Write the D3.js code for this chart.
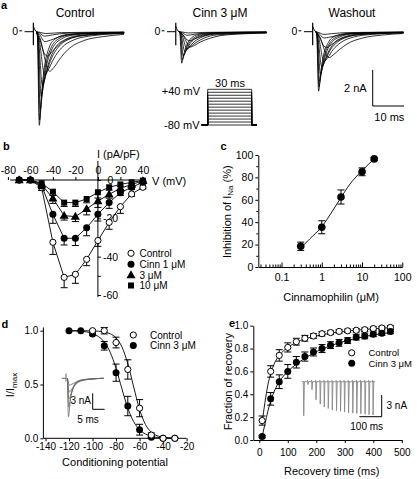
<!DOCTYPE html>
<html>
<head>
<meta charset="utf-8">
<script src="https://cdn.jsdelivr.net/npm/d3@7/dist/d3.min.js"></script>
<style>
html,body{margin:0;padding:0;background:#ffffff;}
svg{display:block;}
</style>
</head>
<body>
<svg id="fig" width="417" height="479" viewBox="0 0 417 479"></svg>
<script>
// ================= DATA =================
// ---- Panel a : Na+ current families, [time (ms), current (nA)] ----
const aTitles = ["Control", "Cinn 3 \u03bcM", "Washout"];
const aTracesControl = [
 [[0,0],[0.3,-0.3],[0.9,-5.2],[1.5,-3.7],[2.5,-2.0],[4,-0.9],[6,-0.4],[10,-0.15],[20,-0.06],[28,-0.04]],
 [[0,0],[0.35,-0.25],[1.0,-4.9],[1.7,-3.5],[2.8,-2.0],[4.5,-0.95],[7,-0.4],[11,-0.16],[20,-0.07],[28,-0.04]],
 [[0,0],[0.4,-0.3],[1.2,-4.3],[2.0,-3.2],[3.2,-1.9],[5,-0.95],[8,-0.4],[12,-0.18],[20,-0.08],[28,-0.05]],
 [[0,0],[0.5,-0.35],[1.5,-3.6],[2.4,-2.8],[3.8,-1.8],[6,-0.9],[9,-0.45],[14,-0.2],[28,-0.06]],
 [[0,0],[0.6,-0.4],[1.9,-3.0],[3.0,-2.4],[4.5,-1.6],[7,-0.85],[10,-0.45],[15,-0.22],[28,-0.08]],
 [[0,0],[0.8,-0.4],[2.6,-2.4],[3.8,-2.1],[5.5,-1.5],[8,-0.9],[12,-0.45],[18,-0.22],[28,-0.1]],
 [[0,0],[1.2,-0.5],[4.2,-2.2],[5.5,-2.0],[7.5,-1.5],[10,-1.0],[15,-0.5],[21,-0.28],[28,-0.15]],
 [[0,0],[1.0,-0.3],[2.6,-1.25],[3.6,-1.35],[5,-1.1],[8,-0.6],[12,-0.3],[20,-0.12],[28,-0.06]],
 [[0,0],[1.0,-0.15],[2.6,-0.55],[4,-0.5],[7,-0.3],[12,-0.14],[28,-0.04]],
 [[0,0],[1.0,-0.08],[2.6,-0.25],[5,-0.18],[10,-0.08],[28,-0.03]],
 [[0,0],[1.2,-0.04],[3,-0.1],[8,-0.05],[28,-0.02]]
];
const aTracesCinn = [
 [[0,0],[0.3,-0.1],[0.9,-1.75],[1.5,-1.3],[2.5,-0.75],[4,-0.35],[6,-0.16],[10,-0.07],[28,-0.03]],
 [[0,0],[0.4,-0.1],[1.1,-1.55],[1.8,-1.2],[3,-0.7],[5,-0.32],[8,-0.14],[14,-0.06],[28,-0.03]],
 [[0,0],[0.5,-0.1],[1.4,-1.35],[2.3,-1.05],[3.6,-0.65],[6,-0.3],[9,-0.15],[15,-0.06],[28,-0.04]],
 [[0,0],[0.6,-0.12],[1.9,-1.1],[3,-0.9],[4.5,-0.62],[7,-0.33],[11,-0.15],[28,-0.05]],
 [[0,0],[0.8,-0.12],[2.6,-0.95],[3.8,-0.82],[5.5,-0.6],[8,-0.36],[12,-0.18],[28,-0.06]],
 [[0,0],[1.1,-0.15],[3.6,-0.85],[5,-0.76],[7,-0.56],[10,-0.36],[15,-0.18],[28,-0.08]],
 [[0,0],[1.0,-0.1],[2.6,-0.45],[3.6,-0.5],[5,-0.4],[8,-0.22],[12,-0.1],[28,-0.04]],
 [[0,0],[1.0,-0.05],[2.6,-0.2],[5,-0.14],[10,-0.06],[28,-0.02]],
 [[0,0],[1.2,-0.02],[3,-0.07],[8,-0.04],[28,-0.01]]
];
const aTracesWashout = [
 [[0,0],[0.3,-0.2],[0.9,-3.3],[1.5,-2.4],[2.5,-1.3],[4,-0.6],[6,-0.26],[10,-0.1],[20,-0.04],[28,-0.03]],
 [[0,0],[0.35,-0.2],[1.0,-3.05],[1.7,-2.25],[2.8,-1.3],[4.5,-0.62],[7,-0.27],[11,-0.11],[28,-0.03]],
 [[0,0],[0.4,-0.2],[1.2,-2.75],[2.0,-2.05],[3.2,-1.25],[5,-0.62],[8,-0.27],[12,-0.12],[28,-0.04]],
 [[0,0],[0.5,-0.25],[1.5,-2.35],[2.4,-1.85],[3.8,-1.2],[6,-0.6],[9,-0.3],[14,-0.13],[28,-0.05]],
 [[0,0],[0.6,-0.25],[1.9,-1.95],[3.0,-1.6],[4.5,-1.05],[7,-0.57],[10,-0.3],[15,-0.15],[28,-0.06]],
 [[0,0],[0.8,-0.25],[2.6,-1.65],[3.8,-1.45],[5.5,-1.0],[8,-0.6],[12,-0.3],[18,-0.15],[28,-0.07]],
 [[0,0],[1.2,-0.3],[4.2,-1.45],[5.5,-1.3],[7.5,-1.0],[10,-0.68],[15,-0.35],[21,-0.19],[28,-0.1]],
 [[0,0],[1.0,-0.2],[2.6,-0.8],[3.6,-0.88],[5,-0.72],[8,-0.4],[12,-0.2],[20,-0.08],[28,-0.04]],
 [[0,0],[1.0,-0.1],[2.6,-0.35],[4,-0.32],[7,-0.2],[12,-0.09],[28,-0.03]],
 [[0,0],[1.0,-0.05],[2.6,-0.15],[5,-0.11],[10,-0.05],[28,-0.02]]
];
const aArtifactNA = [0.5, -0.75];
const aProtocolLevels = [-80,-70,-60,-50,-40,-30,-20,-10,0,10,20,30,40];
const aProtocolMs = 30;
const aProtocolLabels = ["+40 mV", "-80 mV", "30 ms"];
const aScaleNA = 2, aScaleMs = 10;

// ---- Panel b : I-V relationship ----
const bVoltage   = [-70,-60,-50,-40,-30,-20,-10,0,10,20,30,40];
const bControl   = [0,0,-4,-32.5,-50.8,-49.2,-41.4,-31.6,-22.1,-13.9,-7.3,-3.8];
const bControlErr= [0,0,1.5,6.3,5.4,4.7,3.3,3.0,3.6,3.5,1.2,0.8];
const bCinn1     = [0,0,-3,-17.9,-30.4,-30.4,-24.9,-17.9,-11.8,-6.6,-3.8,-1.2];
const bCinn1Err  = [0,0,1.5,4.7,3.5,3.8,4.2,3.5,3.0,1.5,1.0,0.5];
const bCinn3     = [0,0,-2.3,-9.6,-18.6,-19.1,-15.1,-11,-7.5,-4.3,-2.3,-0.5];
const bCinn3Err  = [0,0,1.2,2.6,2.3,2.6,3.1,3.3,2.0,1.0,0.8,0.5];
const bCinn10    = [0,0,-1.7,-6.1,-11.8,-11.8,-9.9,-6.4,-3.8,-2.3,-1.2,-0.3];
const bCinn10Err = [0,0,1.0,2.0,2.0,2.0,2.0,3.0,1.5,1.0,0.8,0.5];
const bXTicks = [-80,-60,-40,-20,0,20,40];
const bYTicks = [0,-20,-40,-60];
const bLegend = ["Control","Cinn 1 \u03bcM","3 \u03bcM","10 \u03bcM"];

// ---- Panel c : concentration-response ----
const cConc  = [0.3, 1, 3, 10, 20];
const cInhib = [18.5, 35.5, 62.5, 85, 96.5];
const cErr   = [3.7, 5.8, 6.3, 3.5, 1.2];
const cFitConc = [0.3, 0.5, 1, 2, 3, 5, 10, 20];
const cFitVal  = [17, 25, 36, 52, 62, 74, 86, 96.5];
const cXTicks = [0.1, 1, 10, 100];
const cYTicks = [0, 20, 40, 60, 80, 100];

// ---- Panel d : steady-state inactivation ----
const dVoltage   = [-120,-110,-100,-90,-80,-70,-60,-50,-40,-30];
const dControl   = [null,null,1.0,1.0,0.89,0.64,0.28,0.03,0.0,0.0];
const dControlErr= [0,0,0.01,0.03,0.05,0.09,0.08,0.02,0,0];
const dCinn      = [1.0,1.0,0.97,0.86,0.61,0.30,0.08,0.01,0.0,0.0];
const dCinnErr   = [0,0,0.01,0.04,0.08,0.09,0.05,0.01,0,0];
const dFitV       = [-120,-110,-100,-95,-90,-85,-80,-75,-70,-65,-60,-55,-50,-45,-40,-35,-30];
const dFitControl = [1,1,0.998,0.995,0.989,0.972,0.933,0.849,0.694,0.477,0.269,0.129,0.056,0.023,0.01,0.004,0.002];
const dFitCinn    = [0.999,0.995,0.975,0.945,0.895,0.8,0.65,0.46,0.28,0.155,0.08,0.04,0.018,0.008,0.004,0.002,0.001];
const dXTicks = [-140,-120,-100,-80,-60,-40,-20];
const dYTicks = [0, 0.5, 1.0];
const dLegend = ["Control","Cinn 3 \u03bcM"];
const dInsetTraces = [
 [[0,0],[0.4,-7.2],[1.2,-4.0],[2.5,-1.5],[4,-0.6],[7,-0.2],[15,0]],
 [[0,0],[0.5,-5.4],[1.4,-3.3],[2.8,-1.4],[4.5,-0.6],[8,-0.2],[15,0]],
 [[0,0],[0.6,-3.9],[1.6,-2.7],[3,-1.3],[5,-0.55],[9,-0.2],[15,0]],
 [[0,0],[0.7,-2.6],[1.8,-2.0],[3.5,-1.1],[6,-0.45],[10,-0.15],[15,0]],
 [[0,0],[0.8,-1.3],[2,-1.05],[4,-0.6],[7,-0.25],[15,0]]
];
const dInsetScale = ["3 nA", "5 ms"];
const dInsetScaleNA = 3, dInsetScaleMs = 5;

// ---- Panel e : recovery from inactivation ----
const eTime      = [10,40,70,100,130,160,190,220,250,280,310,340,370,400,430,460];
const eControl   = [0.17,0.60,0.74,0.81,0.86,0.89,0.91,0.93,0.94,0.95,0.955,0.96,0.965,0.975,0.98,0.985];
const eControlErr= [0.04,0.05,0.05,0.04,0.03,0.025,0.02,0.02,0.015,0.015,0.015,0.015,0.015,0.015,0.015,0.015];
const eCinn      = [0.03,0.36,0.51,0.60,0.68,0.73,0.77,0.80,0.83,0.85,0.87,0.90,0.91,0.925,0.935,0.95];
const eCinnErr   = [0.01,0.055,0.06,0.06,0.05,0.04,0.035,0.035,0.03,0.03,0.025,0.025,0.025,0.02,0.02,0.02];
const eFitT       = [10,20,30,40,55,70,85,100,130,160,190,220,250,280,310,340,370,400,430,460];
const eFitControl = [0.15,0.33,0.48,0.58,0.68,0.74,0.78,0.81,0.855,0.885,0.905,0.92,0.935,0.945,0.955,0.96,0.967,0.973,0.978,0.983];
const eFitCinn    = [0.03,0.14,0.25,0.34,0.44,0.51,0.56,0.60,0.665,0.715,0.76,0.795,0.825,0.85,0.87,0.89,0.905,0.92,0.93,0.94];
const eXTicks = [0,100,200,300,400,500];
const eYTicks = [0,0.2,0.4,0.6,0.8,1.0];
const eLegend = ["Control","Cinn 3 \u03bcM"];
const eInsetCondNA = 4.7;
const eInsetTestMs = [19,37,55,74,92,110,128,147,165,183,201,220,238,256,275,293,311];
const eInsetTestNA = [0.4,1.1,2.5,3.1,3.5,3.7,3.9,4.0,4.1,4.2,4.3,4.35,4.4,4.45,4.5,4.55,4.6];
const eInsetScale = ["3 nA", "100 ms"];
const eInsetScaleNA = 3, eInsetScaleMs = 100;

// ================= DRAWING =================
const FONT = '"Liberation Sans", Arial, Helvetica, sans-serif';
const svg = d3.select("#fig");
svg.append("rect").attr("width",417).attr("height",479).attr("fill","#fff");

function label(x, y, s, size, anchor, weight) {
  return svg.append("text").attr("x", x).attr("y", y)
    .attr("font-size", size).attr("font-family", FONT)
    .attr("text-anchor", anchor || "start").attr("font-weight", weight || "normal")
    .attr("fill", "#000").text(s);
}
function styleAxis(g, size) {
  g.attr("font-family", FONT).attr("font-size", size);
  g.selectAll("path,line").attr("stroke", "#000").attr("stroke-width", 1);
  g.selectAll("text").attr("fill", "#000");
}
function marker(g, type, x, y) {
  if (type === "open") {
    g.append("circle").attr("cx", x).attr("cy", y).attr("r", 3.1)
      .attr("fill", "#fff").attr("stroke", "#000").attr("stroke-width", 1);
  } else if (type === "filled") {
    g.append("circle").attr("cx", x).attr("cy", y).attr("r", 3.5).attr("fill", "#000");
  } else if (type === "tri") {
    g.append("path").attr("d", d3.symbol(d3.symbolTriangle, 36)())
      .attr("transform", `translate(${x},${y + 0.5})`).attr("fill", "#000");
  } else if (type === "square") {
    g.append("path").attr("d", d3.symbol(d3.symbolSquare, 36)())
      .attr("transform", `translate(${x},${y})`).attr("fill", "#000");
  }
}
function errLine(g, x, y1, y2, cap, capBoth) {
  g.append("line").attr("x1", x).attr("x2", x).attr("y1", y1).attr("y2", y2)
    .attr("stroke", "#000").attr("stroke-width", 1);
  g.append("line").attr("x1", x - cap/2).attr("x2", x + cap/2).attr("y1", y2).attr("y2", y2)
    .attr("stroke", "#000").attr("stroke-width", 1);
  if (capBoth) g.append("line").attr("x1", x - cap/2).attr("x2", x + cap/2).attr("y1", y1).attr("y2", y1)
    .attr("stroke", "#000").attr("stroke-width", 1);
}

// ---------- Panel a ----------
label(1, 8.5, "a", 11, "start", "bold");
const aPxPerMs = 3.13, aPxPerNA = 18, aBase = 31.7;
const aPanels = [
  {traces: aTracesControl, x0: 36.5, cx: 75},
  {traces: aTracesCinn, x0: 178.9, cx: 220},
  {traces: aTracesWashout, x0: 315.8, cx: 352}
];
const ga = svg.append("g");
aPanels.forEach((p, i) => {
  label(p.cx, 17.3, aTitles[i], 12, "middle");
  const x = d3.scaleLinear().domain([0, 28]).range([p.x0, p.x0 + 28 * aPxPerMs]);
  const y = d3.scaleLinear().domain([0, -1]).range([aBase, aBase + aPxPerNA]);
  const line = d3.line().x(d => x(d[0])).y(d => y(d[1])).curve(d3.curveMonotoneX);
  label(x(-5.9), aBase + 3.6, "0", 10.5, "end");
  ga.append("line").attr("x1", x(-5.5)).attr("x2", x(-4.6)).attr("y1", y(0.05)).attr("y2", y(0.05))
    .attr("stroke", "#000").attr("stroke-width", 1);
  ga.append("path").attr("d", line([[-3.8, 0], [-1, 0]])).attr("fill", "none")
    .attr("stroke", "#000").attr("stroke-width", 1);
  ga.append("line").attr("x1", x(-1)).attr("x2", x(-1))
    .attr("y1", y(aArtifactNA[0])).attr("y2", y(aArtifactNA[1]))
    .attr("stroke", "#000").attr("stroke-width", 1.2);
  ga.append("path").attr("d", line([[-1, 0.3], [-0.5, 0.1], [0, 0]])).attr("fill", "none")
    .attr("stroke", "#000").attr("stroke-width", 1);
  p.traces.forEach(tr => {
    ga.append("path").attr("d", line(tr)).attr("fill", "none")
      .attr("stroke", "#000").attr("stroke-width", 0.8);
  });
  if (i === 2) {
    const sx = 372.7, sy = 106;
    ga.append("path").attr("d", `M${sx},${sy - aScaleNA * aPxPerNA}V${sy}H${sx + aScaleMs * aPxPerMs}`)
      .attr("fill", "none").attr("stroke", "#000").attr("stroke-width", 1);
    label(sx - 6, 92, aScaleNA + " nA", 11, "end");
    label(sx + aScaleMs * aPxPerMs / 2 + 1, 121, aScaleMs + " ms", 11, "middle");
  }
});
// voltage protocol
const px = d3.scaleLinear().domain([0, aProtocolMs]).range([207.7, 251.7]);
const pv = d3.scaleLinear().domain([-80, 40]).range([125, 89.3]);
const pLine = d3.line().x(d => px(d[0])).y(d => pv(d[1]));
aProtocolLevels.forEach(v => {
  ga.append("path").attr("d", pLine([[-4.1, -80], [0, -80], [0, v], [aProtocolMs, v], [aProtocolMs, -80], [aProtocolMs + 3.4, -80]]))
    .attr("fill", "none").attr("stroke", "#000").attr("stroke-width", 0.8);
});
label(200, 94.5, aProtocolLabels[0], 11, "end");
label(199.5, 129.3, aProtocolLabels[1], 11, "end");
label(230, 86.5, aProtocolLabels[2], 11, "middle");

// ---------- Panel b ----------
label(3, 150, "b", 11, "start", "bold");
const bx = d3.scaleLinear().domain([-80, 40]).range([7.9, 142.9]);
const by = d3.scaleLinear().domain([0, -60]).range([180, 295]);
const gb = svg.append("g");
const gbx = gb.append("g").attr("transform", `translate(0,${by(0)})`)
  .call(d3.axisTop(bx).tickValues(bXTicks).tickSize(3).tickSizeOuter(0).tickPadding(3).tickFormat(d => String(d)));
gbx.select(".domain").attr("d", `M${bx(-78)},0H${bx(43)}`);
styleAxis(gbx, 10.5);
const gby = gb.append("g").attr("transform", `translate(${bx(0)},0)`)
  .call(d3.axisRight(by).tickValues([0,-10,-20,-30,-40,-50,-60]).tickSize(3).tickSizeOuter(0)
    .tickFormat(d => bYTicks.includes(d) ? String(d) : ""));
gby.select(".domain").attr("d", `M0,${by(10)}V${by(-61)}`);
styleAxis(gby, 10.5);
gby.selectAll("text").attr("x", 12.6).attr("text-anchor", "middle");
label(bx(0) - 1, 157.5, "I (pA/pF)", 11, "start");
label(152, 184.5, "V (mV)", 11, "start");

const bSeries = [
  {v: bControl, e: bControlErr, m: "open"},
  {v: bCinn1, e: bCinn1Err, m: "filled"},
  {v: bCinn3, e: bCinn3Err, m: "tri"},
  {v: bCinn10, e: bCinn10Err, m: "square"}
];
const bLine = d3.line().x(d => bx(d[0])).y(d => by(d[1]));
bSeries.forEach(s => {
  const pts = bVoltage.map((v, i) => [v, s.v[i]]);
  gb.append("path").attr("d", bLine(pts)).attr("fill", "none").attr("stroke", "#000").attr("stroke-width", 0.9);
  pts.forEach((p, i) => { if (s.e[i] > 0) errLine(gb, bx(p[0]), by(p[1]), by(p[1] - s.e[i]), 7, false); });
  pts.forEach(p => marker(gb, s.m, bx(p[0]), by(p[1])));
});
const bLegY = [253.3, 264.3, 275, 285.5];
bSeries.forEach((s, i) => {
  marker(gb, s.m, 131, bLegY[i]);
  label(139.5, bLegY[i] + 3.6, bLegend[i], 10, "start");
});

// ---------- Panel c ----------
label(220.5, 149.5, "c", 11, "start", "bold");
const cx = d3.scaleLog().domain([0.0265, 100]).range([258.3, 402.3]);
const cy = d3.scaleLinear().domain([0, 100]).range([267, 155]);
const gc = svg.append("g");
const cMinor = [];
[0.01, 0.1, 1, 10].forEach(dec => { for (let k = 2; k <= 9; k++) { const v = dec * k; if (v > 0.0265 && v < 100) cMinor.push(v); } });
const gcxm = gc.append("g").attr("transform", `translate(0,${cy(0)})`)
  .call(d3.axisBottom(cx).tickValues(cMinor).tickSize(-2.5).tickSizeOuter(0).tickFormat(""));
gcxm.select(".domain").remove();
styleAxis(gcxm, 10.5);
const gcx = gc.append("g").attr("transform", `translate(0,${cy(0)})`)
  .call(d3.axisBottom(cx).tickValues(cXTicks).tickSize(-4.5).tickSizeOuter(0).tickFormat(d => String(d)));
styleAxis(gcx, 10.5);
gcx.selectAll("text").attr("y", 7).attr("dy", "0.71em");
const gcym = gc.append("g").attr("transform", `translate(${cx(0.0265)},0)`)
  .call(d3.axisLeft(cy).tickValues([10,30,50,70,90]).tickSize(2).tickSizeOuter(0).tickFormat(""));
gcym.select(".domain").remove();
styleAxis(gcym, 10.5);
const gcy = gc.append("g").attr("transform", `translate(${cx(0.0265)},0)`)
  .call(d3.axisLeft(cy).tickValues(cYTicks).tickSize(3).tickSizeOuter(0).tickPadding(2).tickFormat(d => String(d)));
styleAxis(gcy, 10.5);
const cLine = d3.line().x(d => cx(d[0])).y(d => cy(d[1])).curve(d3.curveMonotoneX);
gc.append("path").attr("d", cLine(cFitConc.map((c, i) => [c, cFitVal[i]])))
  .attr("fill", "none").attr("stroke", "#000").attr("stroke-width", 0.9);
cConc.forEach((c, i) => {
  errLine(gc, cx(c), cy(cInhib[i] - cErr[i]), cy(cInhib[i] + cErr[i]), 7, true);
  gc.append("circle").attr("cx", cx(c)).attr("cy", cy(cInhib[i])).attr("r", 3.8).attr("fill", "#000");
});
const cyl = svg.append("text").attr("transform", "translate(230.5,211.7) rotate(-90)")
  .attr("font-family", FONT).attr("font-size", 11).attr("text-anchor", "middle").attr("fill", "#000");
cyl.append("tspan").text("Inhibition of I");
cyl.append("tspan").attr("font-size", 8).attr("dy", 2.5).text("Na");
cyl.append("tspan").attr("dy", -2.5).text(" (%)");
label(331, 300.5, "Cinnamophilin (\u03bcM)", 11, "middle");

// ---------- Panel d ----------
label(1.5, 328, "d", 11, "start", "bold");
const dx = d3.scaleLinear().domain([-140, -20]).range([45.5, 186.6]);
const dy = d3.scaleLinear().domain([0, 1]).range([438.3, 330.7]);
const gd = svg.append("g");
const gdx = gd.append("g").attr("transform", `translate(0,${dy(0)})`)
  .call(d3.axisBottom(dx).tickValues(dXTicks).tickSize(3).tickSizeOuter(0).tickPadding(1.5).tickFormat(d => String(d)));
gdx.select(".domain").attr("d", `M${dx.invert ? 43.4 : 43.4},0H${dx(-20)}`);
styleAxis(gdx, 10);
const gdy = gd.append("g").attr("transform", `translate(43.4,0)`)
  .call(d3.axisLeft(dy).tickValues(dYTicks).tickSize(3).tickSizeOuter(0).tickPadding(2).tickFormat(d3.format(".1f")));
gdy.select(".domain").attr("d", `M0,${dy(0)}V${dy(1.03)}`);
styleAxis(gdy, 10);
const dLine = d3.line().x(d => dx(d[0])).y(d => dy(d[1])).curve(d3.curveMonotoneX);
gd.append("path").attr("d", dLine(dFitV.map((v, i) => [v, dFitControl[i]]))).attr("fill", "none").attr("stroke", "#000").attr("stroke-width", 0.9);
gd.append("path").attr("d", dLine(dFitV.map((v, i) => [v, dFitCinn[i]]))).attr("fill", "none").attr("stroke", "#000").attr("stroke-width", 0.9);
dVoltage.forEach((v, i) => {
  if (dCinnErr[i] > 0) errLine(gd, dx(v), dy(dCinn[i] - dCinnErr[i]), dy(dCinn[i] + dCinnErr[i]), 7, true);
});
dVoltage.forEach((v, i) => marker(gd, "filled", dx(v), dy(dCinn[i])));
dVoltage.forEach((v, i) => {
  if (dControl[i] === null) return;
  if (dControlErr[i] > 0) errLine(gd, dx(v), dy(dControl[i] - dControlErr[i]), dy(dControl[i] + dControlErr[i]), 7, true);
});
dVoltage.forEach((v, i) => { if (dControl[i] !== null) marker(gd, "open", dx(v), dy(dControl[i])); });
marker(gd, "open", 133.3, 335); label(150, 338.6, dLegend[0], 10, "start");
marker(gd, "filled", 133.3, 345.5); label(150, 349.1, dLegend[1], 10, "start");
const dyl = svg.append("text").attr("transform", "translate(14,385) rotate(-90)")
  .attr("font-family", FONT).attr("font-size", 11).attr("text-anchor", "middle").attr("fill", "#000");
dyl.append("tspan").text("I/I");
dyl.append("tspan").attr("font-size", 8).attr("dy", 2.5).text("max");
label(115, 466, "Conditioning potential", 11, "middle");
// inset traces
const dix = d3.scaleLinear().domain([0, 1]).range([67.5, 67.5 + 2.4]);
const diy = d3.scaleLinear().domain([0, -1]).range([378.3, 378.3 + 5.33]);
const diLine = d3.line().x(d => dix(d[0])).y(d => diy(d[1])).curve(d3.curveMonotoneX);
gd.append("path").attr("d", diLine([[-2.4, 0], [-0.6, 0]])).attr("fill", "none").attr("stroke", "#555").attr("stroke-width", 0.9);
gd.append("line").attr("x1", dix(-0.6)).attr("x2", dix(-0.6)).attr("y1", diy(0.9)).attr("y2", diy(-0.6))
  .attr("stroke", "#555").attr("stroke-width", 0.9);
dInsetTraces.forEach(tr => {
  gd.append("path").attr("d", diLine(tr)).attr("fill", "none").attr("stroke", "#6a6a6a").attr("stroke-width", 0.8);
});
{
  const sx = 92.7, sy = 409.3;
  gd.append("path").attr("d", `M${sx},${sy - dInsetScaleNA * 5.33}V${sy}H${sx + dInsetScaleMs * 2.4}`)
    .attr("fill", "none").attr("stroke", "#000").attr("stroke-width", 1);
}
label(91, 404.3, dInsetScale[0], 10, "end");
label(88, 423, dInsetScale[1], 10, "middle");

// ---------- Panel e ----------
label(229, 327, "e", 11, "start", "bold");
const ex = d3.scaleLinear().domain([-21, 500]).range([253.3, 401.8]);
const ey = d3.scaleLinear().domain([0, 1]).range([440, 325.7]);
const ge = svg.append("g");
const gex = ge.append("g").attr("transform", `translate(0,${ey(0)})`)
  .call(d3.axisBottom(ex).tickValues(eXTicks).tickSize(3).tickSizeOuter(0).tickPadding(6).tickFormat(d => String(d)));
styleAxis(gex, 10);
const gey = ge.append("g").attr("transform", `translate(${ex(-21)},0)`)
  .call(d3.axisLeft(ey).tickValues(eYTicks).tickSize(3).tickSizeOuter(0).tickPadding(2).tickFormat(d3.format(".1f")));
styleAxis(gey, 10);
const eLine = d3.line().x(d => ex(d[0])).y(d => ey(d[1])).curve(d3.curveMonotoneX);
ge.append("path").attr("d", eLine(eFitT.map((t, i) => [t, eFitControl[i]]))).attr("fill", "none").attr("stroke", "#000").attr("stroke-width", 0.9);
ge.append("path").attr("d", eLine(eFitT.map((t, i) => [t, eFitCinn[i]]))).attr("fill", "none").attr("stroke", "#000").attr("stroke-width", 0.9);
eTime.forEach((t, i) => {
  errLine(ge, ex(t), ey(eControl[i] - eControlErr[i]), ey(eControl[i] + eControlErr[i]), 7, true);
  errLine(ge, ex(t), ey(eCinn[i] - eCinnErr[i]), ey(eCinn[i] + eCinnErr[i]), 7, true);
});
eTime.forEach((t, i) => marker(ge, "open", ex(t), ey(eControl[i])));
eTime.forEach((t, i) => marker(ge, "filled", ex(t), ey(eCinn[i])));
marker(ge, "open", 351.7, 352.8); label(368.5, 356.2, eLegend[0], 9.5, "start");
marker(ge, "filled", 351.7, 363.2); label(368.5, 366.6, eLegend[1], 9.5, "start");
svg.append("text").attr("transform", "translate(232.3,381.7) rotate(-90)")
  .attr("font-family", FONT).attr("font-size", 11).attr("text-anchor", "middle").attr("fill", "#000")
  .text("Fraction of recovery");
label(331.7, 474.5, "Recovery time (ms)", 11, "middle");
// inset: recovery protocol currents
const eix = d3.scaleLinear().domain([0, 100]).range([303.3, 303.3 + 22.3]);
const eiy = d3.scaleLinear().domain([0, -1]).range([381.7, 381.7 + 7.23]);
const eiLine = d3.line().x(d => eix(d[0])).y(d => eiy(d[1]));
ge.append("path").attr("d", eiLine([[-7, 0], [322, 0]])).attr("fill", "none").attr("stroke", "#888").attr("stroke-width", 0.9);
ge.append("path").attr("d", eiLine([[0, 0], [2, -eInsetCondNA], [5, 0]])).attr("fill", "none").attr("stroke", "#888").attr("stroke-width", 0.9);
eInsetTestMs.forEach((t, i) => {
  ge.append("path").attr("d", eiLine([[t, 0.25], [t + 0.5, 0], [t + 2, -eInsetTestNA[i]], [t + 5, 0]]))
    .attr("fill", "none").attr("stroke", "#888").attr("stroke-width", 0.9);
});
{
  const sx = 381.7, sy = 416.7;
  ge.append("path").attr("d", `M${sx},${sy - eInsetScaleNA * 7.23}V${sy}H${sx - eInsetScaleMs * 0.223}`)
    .attr("fill", "none").attr("stroke", "#000").attr("stroke-width", 1);
}
label(386.5, 408.5, eInsetScale[0], 10, "start");
label(366.7, 430, eInsetScale[1], 10, "middle");
</script>
</body>
</html>
